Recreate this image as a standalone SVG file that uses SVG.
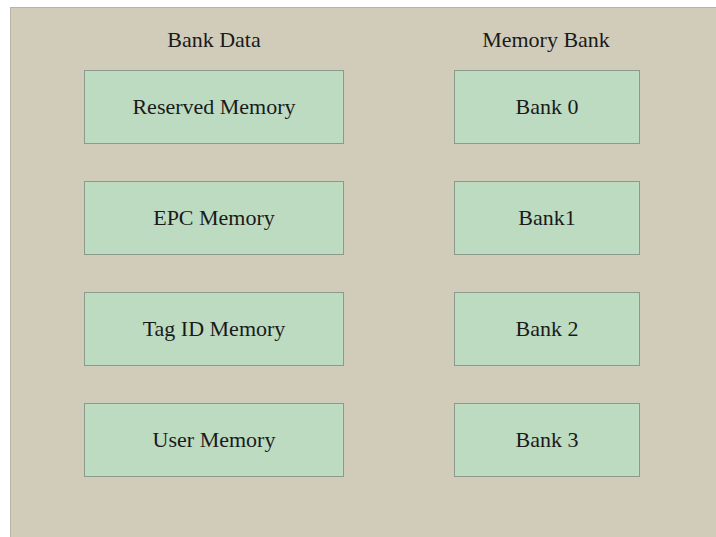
<svg xmlns="http://www.w3.org/2000/svg" width="716" height="537" viewBox="0 0 716 537">
  <style>
    .panel { fill: #d1ccb9; stroke: #b9b5a6; stroke-width: 1; }
    .box { fill: #bddbc1; stroke: #8c9a8c; stroke-width: 1; }
    .label { font-family: "Liberation Serif", "Times New Roman", serif; font-size: 22px; fill: #1a1a1a; text-anchor: middle; }
  </style>
  <rect x="0" y="0" width="716" height="537" fill="#ffffff"/>
  <rect class="panel" x="10.5" y="7.5" width="710" height="535"/>

  <text class="label" x="214" y="47">Bank Data</text>
  <text class="label" x="546" y="47">Memory Bank</text>

  <g id="reserved-memory">
    <rect class="box" x="84.5" y="70.5" width="259" height="73"/>
    <text class="label" x="214" y="114">Reserved Memory</text>
  </g>
  <g id="epc-memory">
    <rect class="box" x="84.5" y="181.5" width="259" height="73"/>
    <text class="label" x="214" y="225">EPC Memory</text>
  </g>
  <g id="tag-id-memory">
    <rect class="box" x="84.5" y="292.5" width="259" height="73"/>
    <text class="label" x="214" y="336">Tag ID Memory</text>
  </g>
  <g id="user-memory">
    <rect class="box" x="84.5" y="403.5" width="259" height="73"/>
    <text class="label" x="214" y="447">User Memory</text>
  </g>

  <g id="bank-0">
    <rect class="box" x="454.5" y="70.5" width="185" height="73"/>
    <text class="label" x="547" y="114">Bank 0</text>
  </g>
  <g id="bank-1">
    <rect class="box" x="454.5" y="181.5" width="185" height="73"/>
    <text class="label" x="547" y="225">Bank1</text>
  </g>
  <g id="bank-2">
    <rect class="box" x="454.5" y="292.5" width="185" height="73"/>
    <text class="label" x="547" y="336">Bank 2</text>
  </g>
  <g id="bank-3">
    <rect class="box" x="454.5" y="403.5" width="185" height="73"/>
    <text class="label" x="547" y="447">Bank 3</text>
  </g>

  <g id="connectors"></g>
</svg>
